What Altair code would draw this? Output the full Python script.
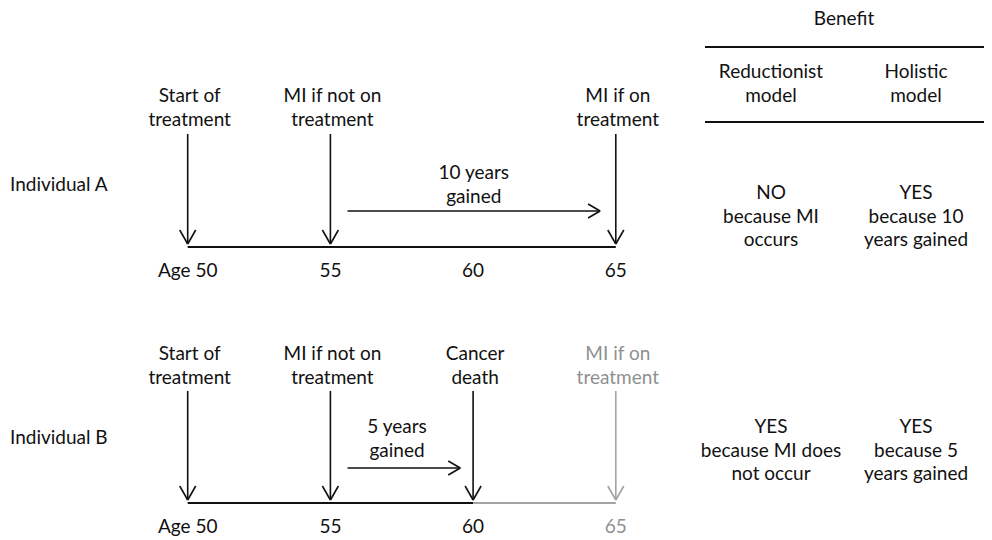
import altair as alt
import pandas as pd

# ---------------- data ----------------
ages = [50, 55, 60, 65]
tick_labels = ["Age 50", "55", "60", "65"]
a_event_ages = [50, 55, 65]
a_event_labels = [["Start of", "treatment"], ["MI if not on", "treatment"], ["MI if on", "treatment"]]
b_event_ages = [50, 55, 60, 65]
b_event_labels = [["Start of", "treatment"], ["MI if not on", "treatment"], ["Cancer", "death"], ["MI if on", "treatment"]]
b_event_grey = [False, False, False, True]
a_gain_span = [55.6, 64.45]
a_gain_text = ["10 years", "gained"]
b_gain_span = [55.6, 59.55]
b_gain_text = ["5 years", "gained"]
a_line_end = 65
b_line_black_end = 60
b_line_grey_end = 65
row_labels = ["Individual A", "Individual B"]
benefit_title = "Benefit"
col_headers = [["Reductionist", "model"], ["Holistic", "model"]]
a_benefit = [["NO", "because MI", "occurs"], ["YES", "because 10", "years gained"]]
b_benefit = [["YES", "because MI does", "not occur"], ["YES", "because 5", "years gained"]]

# ---------------- layout ----------------
BLACK = "#111111"
GREY = "#a3a3a3"
GREY_TXT = "#909090"
PX57 = 401.75   # pixel of age 57.5
PPY = 28.54     # pixels per year
LH = 23.5
W, H = 976, 524


def to_age(px):
    return 57.5 + (px - PX57) / PPY


def dage(px):
    return px / PPY


X_DOMAIN = [to_age(8), to_age(8 + W)]
Y_DOMAIN = [8, 8 + H]

rows = [
    dict(head=96, top=134, tip=244, line=247, gain_txt=173, gain_y=211, tick=271, label=185, table=193),
    dict(head=354, top=391, tip=500, line=503, gain_txt=427, gain_y=468, tick=527, label=438, table=427),
]

segs = []
texts = []
left_texts = []


def seg(x, x2, y, y2, color=BLACK, w=1.6):
    segs.append(dict(x=x, x2=x2, y=y, y2=y2, color=color, w=w))


def txt(x, y, lines, color=BLACK):
    for i, s in enumerate(lines):
        texts.append(dict(x=x, y=y + i * LH, text=s, color=color))


def down_arrow(age, r, color):
    seg(age, age, r["top"], r["tip"], color)
    seg(age, age - dage(8), r["tip"], r["tip"] - 14, color)
    seg(age, age + dage(8), r["tip"], r["tip"] - 14, color)


def right_arrow(span, y):
    seg(span[0], span[1], y, y)
    seg(span[1], span[1] - dage(12), y, y - 7)
    seg(span[1], span[1] - dage(12), y, y + 7)


# Individual A
rA = rows[0]
seg(ages[0], a_line_end, rA["line"], rA["line"], BLACK, 2)
for a, lab in zip(a_event_ages, a_event_labels):
    down_arrow(a, rA, BLACK)
    txt(a + dage(2), rA["head"], lab)
right_arrow(a_gain_span, rA["gain_y"])
txt((a_gain_span[0] + a_gain_span[1]) / 2, rA["gain_txt"], a_gain_text)
for a, t in zip(ages, tick_labels):
    txt(a, rA["tick"], [t])

# Individual B
rB = rows[1]
seg(ages[0], b_line_black_end, rB["line"], rB["line"], BLACK, 2)
seg(b_line_black_end, b_line_grey_end, rB["line"], rB["line"], GREY, 2)
for a, lab, g in zip(b_event_ages, b_event_labels, b_event_grey):
    down_arrow(a, rB, GREY if g else BLACK)
    txt(a + dage(2), rB["head"], lab, GREY_TXT if g else BLACK)
right_arrow(b_gain_span, rB["gain_y"])
txt(to_age(397), rB["gain_txt"], b_gain_text)
for a, t in zip(ages, tick_labels):
    txt(a, rB["tick"], [t], GREY_TXT if a > b_line_black_end else BLACK)

# row labels
for r, lab in zip(rows, row_labels):
    left_texts.append(dict(x=to_age(10), y=r["label"], text=lab, color=BLACK))

# Benefit table
col_x = [to_age(771), to_age(916)]
txt(to_age(844), 19, [benefit_title])
seg(to_age(705), to_age(984), 47, 47, BLACK, 2)
seg(to_age(705), to_age(984), 122, 122, BLACK, 2)
for cx, h in zip(col_x, col_headers):
    txt(cx, 72, h)
for cx, b in zip(col_x, a_benefit):
    txt(cx, rA["table"], b)
for cx, b in zip(col_x, b_benefit):
    txt(cx, rB["table"], b)

seg_df = pd.DataFrame(segs)
txt_df = pd.DataFrame(texts)
ltxt_df = pd.DataFrame(left_texts)

xs = alt.Scale(domain=X_DOMAIN, nice=False, zero=False)
ys = alt.Scale(domain=Y_DOMAIN, reverse=True, nice=False, zero=False)

rules = alt.Chart(seg_df).mark_rule().encode(
    x=alt.X("x:Q", scale=xs, axis=None),
    x2="x2:Q",
    y=alt.Y("y:Q", scale=ys, axis=None),
    y2="y2:Q",
    color=alt.Color("color:N", scale=None),
    strokeWidth=alt.StrokeWidth("w:Q", scale=None),
)

FONT = "Lato"
FS = 19

labels_c = alt.Chart(txt_df).mark_text(
    font=FONT, fontSize=FS, align="center", baseline="middle"
).encode(
    x=alt.X("x:Q", scale=xs, axis=None),
    y=alt.Y("y:Q", scale=ys, axis=None),
    text="text:N",
    color=alt.Color("color:N", scale=None),
)

labels_l = alt.Chart(ltxt_df).mark_text(
    font=FONT, fontSize=FS, align="left", baseline="middle"
).encode(
    x=alt.X("x:Q", scale=xs, axis=None),
    y=alt.Y("y:Q", scale=ys, axis=None),
    text="text:N",
    color=alt.Color("color:N", scale=None),
)

chart = alt.layer(rules, labels_c, labels_l).properties(
    width=W,
    height=H,
    padding={"left": 0, "top": 0, "right": 0, "bottom": 8},
    autosize=alt.AutoSizeParams(type="none"),
    background="white",
).configure_view(stroke=None)

chart.save("out.html", embed_options={"renderer": "svg", "actions": False})
